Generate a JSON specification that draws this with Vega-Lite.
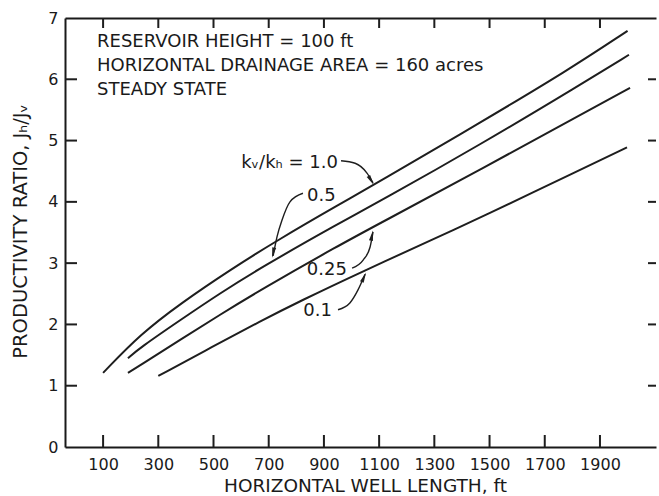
{
  "$schema": "https://vega.github.io/schema/vega-lite/v6.json",
  "width": 591,
  "height": 429,
  "autosize": {"type": "none"},
  "padding": {"left": 65, "top": 18, "right": 3, "bottom": 49},
  "background": "white",
  "config": {
    "view": {"stroke": null},
    "font": "DejaVu Sans",
    "axis": {
      "grid": false,
      "ticks": false,
      "domainColor": "#1a1a1a",
      "domainWidth": 2,
      "labelColor": "#1a1a1a",
      "labelFont": "DejaVu Sans",
      "labelFontSize": 16,
      "labelFlush": false,
      "labelOverlap": false,
      "titleColor": "#1a1a1a",
      "titleFont": "DejaVu Sans",
      "titleFontSize": 18.5,
      "titleFontWeight": "normal"
    }
  },
  "datasets": {
    "curves": [
      {"length": 100, "ratio": 1.21, "kv": "1.0"},
      {"length": 235, "ratio": 1.84, "kv": "1.0"},
      {"length": 380, "ratio": 2.34, "kv": "1.0"},
      {"length": 560, "ratio": 2.89, "kv": "1.0"},
      {"length": 730, "ratio": 3.37, "kv": "1.0"},
      {"length": 960, "ratio": 3.97, "kv": "1.0"},
      {"length": 1090, "ratio": 4.3, "kv": "1.0"},
      {"length": 1465, "ratio": 5.29, "kv": "1.0"},
      {"length": 1785, "ratio": 6.15, "kv": "1.0"},
      {"length": 2000, "ratio": 6.79, "kv": "1.0"},
      {"length": 190, "ratio": 1.45, "kv": "0.5"},
      {"length": 234, "ratio": 1.62, "kv": "0.5"},
      {"length": 379, "ratio": 2.07, "kv": "0.5"},
      {"length": 524, "ratio": 2.51, "kv": "0.5"},
      {"length": 669, "ratio": 2.92, "kv": "0.5"},
      {"length": 958, "ratio": 3.66, "kv": "0.5"},
      {"length": 1103, "ratio": 4.01, "kv": "0.5"},
      {"length": 1465, "ratio": 4.93, "kv": "0.5"},
      {"length": 1828, "ratio": 5.91, "kv": "0.5"},
      {"length": 2005, "ratio": 6.4, "kv": "0.5"},
      {"length": 190, "ratio": 1.21, "kv": "0.25"},
      {"length": 234, "ratio": 1.33, "kv": "0.25"},
      {"length": 379, "ratio": 1.75, "kv": "0.25"},
      {"length": 524, "ratio": 2.16, "kv": "0.25"},
      {"length": 669, "ratio": 2.56, "kv": "0.25"},
      {"length": 958, "ratio": 3.3, "kv": "0.25"},
      {"length": 1103, "ratio": 3.65, "kv": "0.25"},
      {"length": 1465, "ratio": 4.52, "kv": "0.25"},
      {"length": 1828, "ratio": 5.42, "kv": "0.25"},
      {"length": 2009, "ratio": 5.86, "kv": "0.25"},
      {"length": 300, "ratio": 1.16, "kv": "0.1"},
      {"length": 498, "ratio": 1.64, "kv": "0.1"},
      {"length": 669, "ratio": 2.05, "kv": "0.1"},
      {"length": 813, "ratio": 2.38, "kv": "0.1"},
      {"length": 1042, "ratio": 2.87, "kv": "0.1"},
      {"length": 1321, "ratio": 3.44, "kv": "0.1"},
      {"length": 1465, "ratio": 3.74, "kv": "0.1"},
      {"length": 1828, "ratio": 4.52, "kv": "0.1"},
      {"length": 1998, "ratio": 4.89, "kv": "0.1"}
    ],
    "tickLines": [
      {"tick": "b100", "length": 100, "ratio": 0}, {"tick": "b100", "length": 100, "ratio": 0.196},
      {"tick": "b300", "length": 300, "ratio": 0}, {"tick": "b300", "length": 300, "ratio": 0.196},
      {"tick": "b500", "length": 500, "ratio": 0}, {"tick": "b500", "length": 500, "ratio": 0.196},
      {"tick": "b700", "length": 700, "ratio": 0}, {"tick": "b700", "length": 700, "ratio": 0.196},
      {"tick": "b900", "length": 900, "ratio": 0}, {"tick": "b900", "length": 900, "ratio": 0.196},
      {"tick": "b1100", "length": 1100, "ratio": 0}, {"tick": "b1100", "length": 1100, "ratio": 0.196},
      {"tick": "b1300", "length": 1300, "ratio": 0}, {"tick": "b1300", "length": 1300, "ratio": 0.196},
      {"tick": "b1500", "length": 1500, "ratio": 0}, {"tick": "b1500", "length": 1500, "ratio": 0.196},
      {"tick": "b1700", "length": 1700, "ratio": 0}, {"tick": "b1700", "length": 1700, "ratio": 0.196},
      {"tick": "b1900", "length": 1900, "ratio": 0}, {"tick": "b1900", "length": 1900, "ratio": 0.196},
      {"tick": "t100", "length": 100, "ratio": 7}, {"tick": "t100", "length": 100, "ratio": 6.837},
      {"tick": "t300", "length": 300, "ratio": 7}, {"tick": "t300", "length": 300, "ratio": 6.837},
      {"tick": "t500", "length": 500, "ratio": 7}, {"tick": "t500", "length": 500, "ratio": 6.837},
      {"tick": "t700", "length": 700, "ratio": 7}, {"tick": "t700", "length": 700, "ratio": 6.837},
      {"tick": "t900", "length": 900, "ratio": 7}, {"tick": "t900", "length": 900, "ratio": 6.837},
      {"tick": "t1100", "length": 1100, "ratio": 7}, {"tick": "t1100", "length": 1100, "ratio": 6.837},
      {"tick": "t1300", "length": 1300, "ratio": 7}, {"tick": "t1300", "length": 1300, "ratio": 6.837},
      {"tick": "t1500", "length": 1500, "ratio": 7}, {"tick": "t1500", "length": 1500, "ratio": 6.837},
      {"tick": "t1700", "length": 1700, "ratio": 7}, {"tick": "t1700", "length": 1700, "ratio": 6.837},
      {"tick": "t1900", "length": 1900, "ratio": 7}, {"tick": "t1900", "length": 1900, "ratio": 6.837},
      {"tick": "l1", "length": -38, "ratio": 1}, {"tick": "l1", "length": 5.5, "ratio": 1},
      {"tick": "l2", "length": -38, "ratio": 2}, {"tick": "l2", "length": 5.5, "ratio": 2},
      {"tick": "l3", "length": -38, "ratio": 3}, {"tick": "l3", "length": 5.5, "ratio": 3},
      {"tick": "l4", "length": -38, "ratio": 4}, {"tick": "l4", "length": 5.5, "ratio": 4},
      {"tick": "l5", "length": -38, "ratio": 5}, {"tick": "l5", "length": 5.5, "ratio": 5},
      {"tick": "l6", "length": -38, "ratio": 6}, {"tick": "l6", "length": 5.5, "ratio": 6},
      {"tick": "r1", "length": 2074, "ratio": 1}, {"tick": "r1", "length": 2103, "ratio": 1},
      {"tick": "r2", "length": 2074, "ratio": 2}, {"tick": "r2", "length": 2103, "ratio": 2},
      {"tick": "r3", "length": 2074, "ratio": 3}, {"tick": "r3", "length": 2103, "ratio": 3},
      {"tick": "r4", "length": 2074, "ratio": 4}, {"tick": "r4", "length": 2103, "ratio": 4},
      {"tick": "r5", "length": 2074, "ratio": 5}, {"tick": "r5", "length": 2103, "ratio": 5},
      {"tick": "r6", "length": 2074, "ratio": 6}, {"tick": "r6", "length": 2103, "ratio": 6}
    ],
    "leaders": [
      {"length": 962, "ratio": 4.67, "kv": "1.0"},
      {"length": 1013, "ratio": 4.63, "kv": "1.0"},
      {"length": 1056, "ratio": 4.47, "kv": "1.0"},
      {"length": 1078, "ratio": 4.31, "kv": "1.0"},
      {"length": 824, "ratio": 4.14, "kv": "0.5"},
      {"length": 777, "ratio": 4.0, "kv": "0.5"},
      {"length": 748, "ratio": 3.7, "kv": "0.5"},
      {"length": 730, "ratio": 3.43, "kv": "0.5"},
      {"length": 716, "ratio": 3.12, "kv": "0.5"},
      {"length": 1002, "ratio": 2.92, "kv": "0.25"},
      {"length": 1042, "ratio": 3.05, "kv": "0.25"},
      {"length": 1067, "ratio": 3.26, "kv": "0.25"},
      {"length": 1078, "ratio": 3.51, "kv": "0.25"},
      {"length": 951, "ratio": 2.24, "kv": "0.1"},
      {"length": 994, "ratio": 2.35, "kv": "0.1"},
      {"length": 1023, "ratio": 2.56, "kv": "0.1"},
      {"length": 1049, "ratio": 2.82, "kv": "0.1"}
    ],
    "arrows": [
      {"length": 1071, "ratio": 4.35, "kv": "1.0"},
      {"length": 716, "ratio": 3.17, "kv": "0.5"},
      {"length": 1074, "ratio": 3.45, "kv": "0.25"},
      {"length": 1045, "ratio": 2.77, "kv": "0.1"}
    ],
    "notesLeft": [
      {"length": 78, "ratio": 6.61, "text": "RESERVOIR HEIGHT = 100 ft"},
      {"length": 78, "ratio": 6.22, "text": "HORIZONTAL DRAINAGE AREA = 160 acres"},
      {"length": 78, "ratio": 5.82, "text": "STEADY STATE"},
      {"length": 839, "ratio": 4.1, "text": "0.5"}
    ],
    "notesRight": [
      {"length": 951, "ratio": 4.63, "text": "kᵥ/kₕ = 1.0"},
      {"length": 983, "ratio": 2.89, "text": "0.25"},
      {"length": 929, "ratio": 2.22, "text": "0.1"}
    ]
  },
  "layer": [
    {
      "data": {"name": "curves"},
      "mark": {"type": "line", "color": "#1e1e1e", "strokeWidth": 2, "interpolate": "basis"},
      "encoding": {
        "x": {
          "field": "length",
          "type": "quantitative",
          "scale": {"domain": [-38, 2103], "nice": false, "zero": false},
          "axis": {
            "orient": "bottom",
            "values": [100, 300, 500, 700, 900, 1100, 1300, 1500, 1700, 1900],
            "format": "d",
            "labelPadding": 9,
            "title": "HORIZONTAL WELL LENGTH, ft",
            "titleX": 300,
            "titleY": 38.5,
            "titleAlign": "center",
            "titleBaseline": "middle"
          }
        },
        "y": {
          "field": "ratio",
          "type": "quantitative",
          "scale": {"domain": [0, 7], "nice": false, "zero": true},
          "axis": {
            "orient": "left",
            "values": [0, 1, 2, 3, 4, 5, 6, 7],
            "format": "d",
            "labelPadding": 7,
            "title": "PRODUCTIVITY RATIO, Jₕ/Jᵥ",
            "titleFontSize": 19.5,
            "titleAngle": 270,
            "titleX": -45,
            "titleY": 213,
            "titleAlign": "center",
            "titleBaseline": "middle"
          }
        },
        "detail": {"field": "kv"}
      }
    },
    {
      "data": {"name": "curves"},
      "mark": {"type": "line", "opacity": 0},
      "encoding": {
        "x": {
          "field": "length",
          "type": "quantitative",
          "axis": {"orient": "top", "labels": false, "title": null}
        },
        "y": {"field": "ratio", "type": "quantitative", "axis": null},
        "detail": {"field": "kv"}
      }
    },
    {
      "data": {"name": "tickLines"},
      "mark": {"type": "line", "color": "#1e1e1e", "strokeWidth": 2},
      "encoding": {
        "x": {"field": "length", "type": "quantitative", "axis": null},
        "y": {"field": "ratio", "type": "quantitative", "axis": null},
        "detail": {"field": "tick"}
      }
    },
    {
      "data": {"name": "leaders"},
      "mark": {"type": "line", "color": "#1e1e1e", "strokeWidth": 1.4, "interpolate": "monotone"},
      "encoding": {
        "x": {"field": "length", "type": "quantitative", "axis": null},
        "y": {"field": "ratio", "type": "quantitative", "axis": null},
        "detail": {"field": "kv"}
      }
    },
    {
      "data": {"name": "arrows"},
      "transform": [{"filter": "datum.kv == '1.0'"}],
      "mark": {"type": "point", "shape": "M0,-1L0.38,1L-0.38,1Z", "filled": true, "color": "#1e1e1e", "opacity": 1, "size": 110, "angle": 149},
      "encoding": {
        "x": {"field": "length", "type": "quantitative", "axis": null},
        "y": {"field": "ratio", "type": "quantitative", "axis": null}
      }
    },
    {
      "data": {"name": "arrows"},
      "transform": [{"filter": "datum.kv == '0.5'"}],
      "mark": {"type": "point", "shape": "M0,-1L0.38,1L-0.38,1Z", "filled": true, "color": "#1e1e1e", "opacity": 1, "size": 110, "angle": 192},
      "encoding": {
        "x": {"field": "length", "type": "quantitative", "axis": null},
        "y": {"field": "ratio", "type": "quantitative", "axis": null}
      }
    },
    {
      "data": {"name": "arrows"},
      "transform": [{"filter": "datum.kv == '0.25'"}],
      "mark": {"type": "point", "shape": "M0,-1L0.38,1L-0.38,1Z", "filled": true, "color": "#1e1e1e", "opacity": 1, "size": 110, "angle": 11},
      "encoding": {
        "x": {"field": "length", "type": "quantitative", "axis": null},
        "y": {"field": "ratio", "type": "quantitative", "axis": null}
      }
    },
    {
      "data": {"name": "arrows"},
      "transform": [{"filter": "datum.kv == '0.1'"}],
      "mark": {"type": "point", "shape": "M0,-1L0.38,1L-0.38,1Z", "filled": true, "color": "#1e1e1e", "opacity": 1, "size": 110, "angle": 24},
      "encoding": {
        "x": {"field": "length", "type": "quantitative", "axis": null},
        "y": {"field": "ratio", "type": "quantitative", "axis": null}
      }
    },
    {
      "data": {"name": "notesLeft"},
      "mark": {"type": "text", "align": "left", "baseline": "middle", "font": "DejaVu Sans", "fontSize": 18, "color": "#1a1a1a"},
      "encoding": {
        "x": {"field": "length", "type": "quantitative", "axis": null},
        "y": {"field": "ratio", "type": "quantitative", "axis": null},
        "text": {"field": "text"}
      }
    },
    {
      "data": {"name": "notesRight"},
      "mark": {"type": "text", "align": "right", "baseline": "middle", "font": "DejaVu Sans", "fontSize": 18, "color": "#1a1a1a"},
      "encoding": {
        "x": {"field": "length", "type": "quantitative", "axis": null},
        "y": {"field": "ratio", "type": "quantitative", "axis": null},
        "text": {"field": "text"}
      }
    }
  ],
  "resolve": {"axis": {"x": "independent", "y": "independent"}}
}
